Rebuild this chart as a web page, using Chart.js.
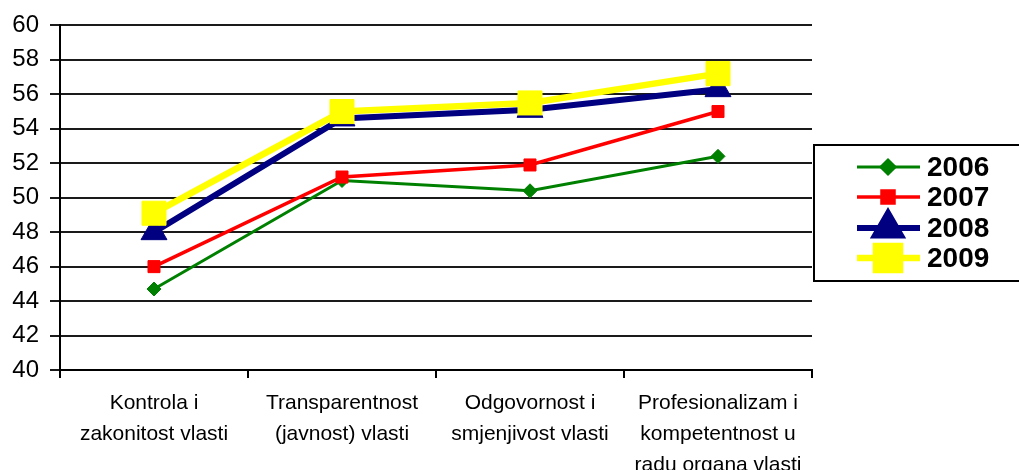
<!DOCTYPE html>
<html>
<head>
<meta charset="utf-8">
<script src="https://cdn.jsdelivr.net/npm/chart.js@4"></script>
<style>
  html, body { margin: 0; padding: 0; background: #fff; }
  #wrap { width: 1019px; height: 470px; }
</style>
</head>
<body>
<div id="wrap"><canvas id="lineChart" width="1019" height="470"></canvas></div>
<script>
// kategorije i vrijednosti
const categories = [
    ['Kontrola i', 'zakonitost vlasti'],
    ['Transparentnost', '(javnost) vlasti'],
    ['Odgovornost i', 'smjenjivost vlasti'],
    ['Profesionalizam i', 'kompetentnost u', 'radu organa vlasti']
];
const years = ['2006', '2007', '2008', '2009'];
const values2006 = [44.7, 51.0, 50.4, 52.4];
const values2007 = [46.0, 51.2, 51.9, 55.0];
const values2008 = [48.0, 54.6, 55.1, 56.3];
const values2009 = [49.1, 55.0, 55.5, 57.2];
const yTicks = [40, 42, 44, 46, 48, 50, 52, 54, 56, 58, 60];

Chart.defaults.font.family = '"Liberation Sans", Arial, sans-serif';
Chart.defaults.color = '#000';

// legenda s okvirom (crta + marker + godina)
const boxLegend = {
    id: 'boxLegend',
    afterDraw(chart) {
        const ctx = chart.ctx;
        ctx.save();
        ctx.strokeStyle = '#000';
        ctx.lineWidth = 2;
        ctx.strokeRect(814, 145, 220, 136);
        const rowsY = [167, 197, 228, 258];
        const byYear = chart.data.datasets.slice().sort((a, b) => a.label.localeCompare(b.label));
        byYear.forEach((ds, i) => {
            const y = rowsY[i];
            ctx.strokeStyle = ds.borderColor;
            ctx.lineWidth = ds.legendLine;
            ctx.beginPath();
            ctx.moveTo(857, y);
            ctx.lineTo(920, y);
            ctx.stroke();
            ctx.fillStyle = ds.pointBackgroundColor;
            ctx.strokeStyle = ds.pointBackgroundColor;
            Chart.helpers.drawPoint(ctx, {
                pointStyle: ds.pointStyle,
                radius: ds.pointRadius,
                rotation: 0,
                borderWidth: 1
            }, 888, y);
            ctx.fillStyle = '#000';
            ctx.font = 'bold 28px "Liberation Sans", Arial, sans-serif';
            ctx.textBaseline = 'middle';
            ctx.textAlign = 'left';
            ctx.fillText(ds.label, 927, y + 1);
        });
        ctx.restore();
    }
};

function series(label, data, color, width, style, radius, order) {
    return {
        label: label,
        data: data,
        borderColor: color,
        backgroundColor: color,
        borderWidth: width,
        legendLine: width,
        pointStyle: style,
        pointRadius: radius,
        pointHoverRadius: radius,
        pointBackgroundColor: color,
        pointBorderColor: color,
        pointBorderWidth: 1,
        tension: 0,
        fill: false,
        order: order
    };
}

new Chart(document.getElementById('lineChart'), {
    type: 'line',
    data: {
        labels: categories,
        datasets: [
            series(years[0], values2006, '#008000', 3, 'rectRot', 7, 3),
            series(years[1], values2007, '#ff0000', 3.5, 'rect', 8.5, 2),
            series(years[2], values2008, '#000080', 6, 'triangle', 15, 1),
            series(years[3], values2009, '#ffff00', 6.5, 'rect', 17, 0)
        ]
    },
    options: {
        responsive: false,
        animation: false,
        devicePixelRatio: 1,
        layout: { padding: { top: 21, right: 207, left: 0, bottom: 0 } },
        plugins: {
            legend: { display: false },
            tooltip: { enabled: false }
        },
        scales: {
            x: {
                offset: true,
                afterFit(scale) { scale.height = 100; },
                grid: {
                    offset: true,
                    drawOnChartArea: false,
                    drawTicks: true,
                    tickLength: 8,
                    color: '#000',
                    lineWidth: 2
                },
                border: { display: true, color: '#000', width: 2 },
                ticks: {
                    maxRotation: 0,
                    autoSkip: false,
                    padding: 10,
                    font: { size: 21, lineHeight: 1.48 },
                    color: '#000'
                }
            },
            y: {
                min: 40,
                max: 60,
                afterFit(scale) { scale.width = 60; },
                afterBuildTicks(scale) { scale.ticks = yTicks.map(v => ({ value: v })); },
                grid: {
                    color: '#1a1a1a',
                    lineWidth: 2,
                    tickLength: 10
                },
                border: { display: true, color: '#000', width: 2 },
                ticks: {
                    padding: 11,
                    font: { size: 24 },
                    color: '#000'
                }
            }
        }
    },
    plugins: [boxLegend]
});
</script>
</body>
</html>
